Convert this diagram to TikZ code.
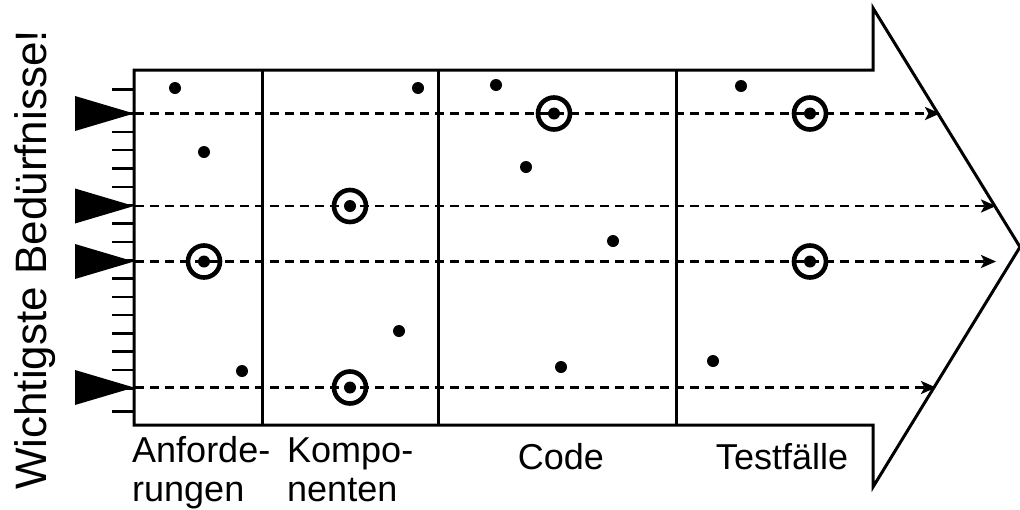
\documentclass[tikz,border=0pt]{standalone}
\usepackage{fontspec}
\setmainfont{Liberation Sans}
\usetikzlibrary{arrows.meta,calc}
\begin{document}
\begin{tikzpicture}[x=1pt,y=-1pt,
  outline/.style={line width=3pt, line join=miter},
  divider/.style={line width=3pt},
  tick/.style={line width=2.6pt},
  need/.style={fill=black, draw=none},
  trace/.style={line width=2.6pt, dash pattern=on 9pt off 6pt,
    -{Stealth[length=15pt,width=13pt,inset=3.5pt]}},
  spot/.style={circle, fill=black, inner sep=0pt, minimum size=12pt},
  ring/.style={circle, draw, line width=4.6pt, inner sep=0pt, minimum size=32pt},
  label/.style={inner sep=0pt, font=\fontsize{36}{39}\selectfont}]
\useasboundingbox (0,0) rectangle (1020,509);

% arrow-shaped frame and phase dividers
\draw[outline] (134,70) -- (873,70) -- (873,8) -- (1020,247) -- (873,487)
  -- (873,425) -- (134,425) -- cycle;
\foreach \x in {262,438,676}
  \draw[divider] (\x,70) -- (\x,425);

% scale ticks on the left edge
\foreach \y in {89.3,411.7}
  \draw[tick] (112,\y) -- (134,\y);
\foreach \i in {0,...,15}
  \draw[tick] (112,113.5+18.33*\i) -- (134,113.5+18.33*\i);

% needs traced through all phases
\coordinate (s1) at (75,113.5);  \coordinate (e1) at (940,113.5);
\coordinate (s2) at (75,206);    \coordinate (e2) at (996,206);
\coordinate (s3) at (75,261.5);  \coordinate (e3) at (996,261.5);
\coordinate (s4) at (75,387.5);  \coordinate (e4) at (936,387.5);
\foreach \k in {1,2,3,4} {
  \draw[trace] (s\k) -- (e\k);
  \fill[need] ($(s\k)+(0,-17.5)$) -- ($(s\k)+(59,0)$) -- ($(s\k)+(0,17.5)$) -- cycle;
}

% artefacts
\node[spot] (a1) at (175,88) {};
\node[spot] (a2) at (204,152) {};
\node[spot] (a3) at (204,261.5) {};
\node[spot] (a4) at (242,371) {};
\node[spot] (k1) at (418,88) {};
\node[spot] (k2) at (350,206) {};
\node[spot] (k3) at (399,331) {};
\node[spot] (k4) at (350,387.5) {};
\node[spot] (c1) at (496,85) {};
\node[spot] (c2) at (554,113.5) {};
\node[spot] (c3) at (526,167) {};
\node[spot] (c4) at (613,241) {};
\node[spot] (c5) at (561,367) {};
\node[spot] (t1) at (741,86) {};
\node[spot] (t2) at (810,113.5) {};
\node[spot] (t3) at (810,261.5) {};
\node[spot] (t4) at (713,361) {};

% artefacts that serve a need
\foreach \n in {a3,k2,k4,c2,t2,t3}
  \node[ring] (r-\n) at (\n) {};

% phase labels
\node[label, anchor=base west] (la) at (132,462)
  {\begin{tabular}[t]{@{}l@{}}Anforde-\\rungen\end{tabular}};
\node[label, anchor=base west] (lk) at (287,462)
  {\begin{tabular}[t]{@{}l@{}}Kompo-\\nenten\end{tabular}};
\node[label, anchor=base] (lc) at (561,469) {Code};
\node[label, anchor=base] (lt) at (782,469) {Testfälle};

% axis title
\node[inner sep=0pt, font=\fontsize{44}{50}\selectfont, rotate=90,
  anchor=base west] (axis) at (46.5,490) {Wichtigste Bedürfnisse!};
\end{tikzpicture}
\end{document}
